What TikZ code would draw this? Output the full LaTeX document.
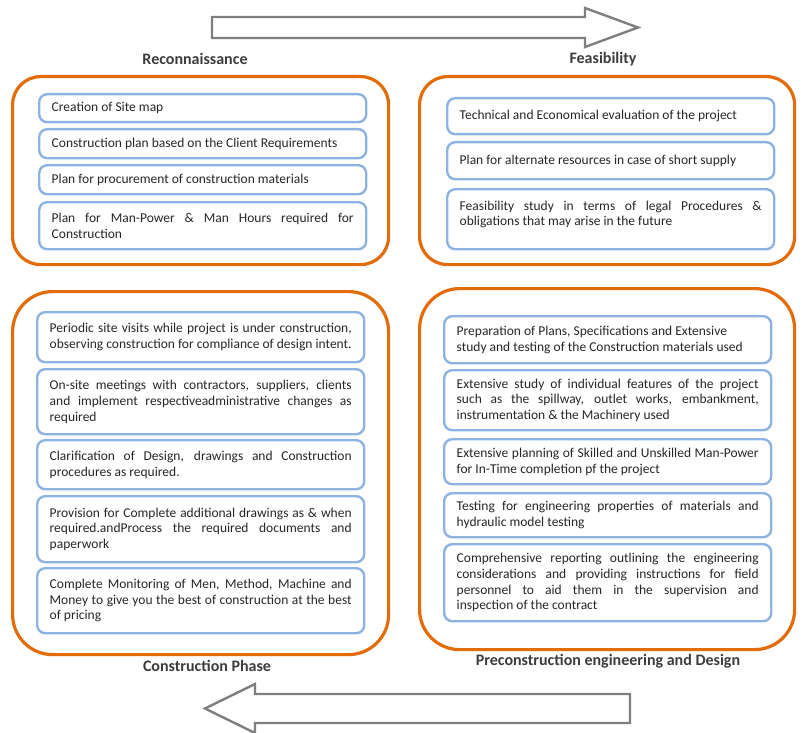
\documentclass[tikz,border=0pt]{standalone}
\usepackage{fontspec}
\setmainfont{Carlito}
\usepackage{tikz}
\usepackage{color}
\usetikzlibrary{positioning, calc}
\definecolor{phaseorange}{HTML}{E36C09}
\definecolor{itemblue}{HTML}{8DB3E2}
\definecolor{arrowgray}{HTML}{7F7F7F}
\definecolor{textgray}{HTML}{262626}
\hyphenpenalty=10000
\exhyphenpenalty=10000

\begin{document}
\begin{tikzpicture}[x=1pt,y=-1pt,
    phase/.style={draw=phaseorange, line width=3.2pt, anchor=north west, inner sep=0pt},
    item/.style={draw=itemblue, line width=2.4pt, rounded corners=8pt, anchor=north west,
        minimum width=327pt, text width=302pt, inner xsep=11pt, align=justify,
        text=textgray, font=\fontsize{13.5}{15.7}\selectfont},
    title/.style={text=textgray!90, font=\fontsize{16}{18}\selectfont\bfseries},
    bigarrow/.style={draw=arrowgray, line width=2.4pt, fill=white}]
                \useasboundingbox (0,0) rectangle (803,733);
                % arrows
                \draw[bigarrow] (212,17) -- (585,17) -- (585,8) -- (638,27.5) -- (585,47) -- (585,38) -- (212,38) -- cycle;
                \draw[bigarrow] (630,694) -- (255,694) -- (255,684) -- (205,708.5) -- (255,733) -- (255,723) -- (630,723) -- cycle;
                % phases
                \node[phase, rounded corners=28pt, minimum width=376pt, minimum height=188pt] (recon) at (11,75) {};
                \node[phase, rounded corners=28pt, minimum width=375pt, minimum height=188pt] (feas) at (418,75) {};
                \node[phase, rounded corners=40pt, minimum width=376pt, minimum height=363pt] (constr) at (11,290) {};
                \node[phase, rounded corners=40pt, minimum width=375pt, minimum height=361pt] (precon) at (418,287) {};
                \node[title] (recont) at (195,59) {Reconnaissance};
                \node[title] (feast) at (603,59) {Feasibility};
                \node[title] (constrt) at (207,666) {Construction Phase};
                \node[title] (precont) at (608,661) {Preconstruction engineering and Design};
                % reconnaissance
                \node[item, minimum height=28pt] (r1) at (38,93) {Creation of Site map};
                \node[item, minimum height=29pt] (r2) at (38,128) {Construction plan based on the Client Requirements};
                \node[item, minimum height=29pt] (r3) at (38,164) {Plan for procurement of construction materials};
                \node[item, minimum height=47pt] (r4) at (38,201) {Plan for Man-Power \& Man Hours required for Construction};
                % feasibility
                \node[item, minimum height=36pt] (f1) at (446,97) {Technical and Economical evaluation of the project};
                \node[item, minimum height=37pt] (f2) at (446,141) {Plan for alternate resources in case of short supply};
                \node[item, minimum height=60pt] (f3) at (446,188) {Feasibility study in terms of legal Procedures \& obligations that may arise in the future\\[-4pt]};
                % construction phase
                \node[item, minimum height=50pt] (c1) at (36,311) {Periodic site visits while project is under construction, observing construction for compliance of design intent.};
                \node[item, minimum height=65pt] (c2) at (36,368) {On-site meetings with contractors, suppliers, clients and implement respectiveadministrative changes as required};
                \node[item, minimum height=49pt] (c3) at (36,439) {Clarification of Design, drawings and Construction procedures as required.};
                \node[item, minimum height=66pt] (c4) at (36,495) {Provision for Complete additional drawings as \& when\linebreak required.andProcess the required documents and paperwork};
                \node[item, minimum height=65pt] (c5) at (36,567) {Complete Monitoring of Men, Method, Machine and Money to give you the best of construction at the best of pricing};
                % preconstruction
                \node[item, minimum height=47pt] (p1) at (443,315) {Preparation of Plans, Specifications and Extensive\\ study and testing of the Construction materials used};
                \node[item, minimum height=60pt] (p2) at (443,369) {Extensive study of individual features of the project such as the spillway, outlet works, embankment, instrumentation \& the Machinery used};
                \node[item, minimum height=45pt] (p3) at (443,438) {Extensive planning of Skilled and Unskilled Man-Power for In-Time completion pf the project};
                \node[item, minimum height=44pt] (p4) at (443,492) {Testing for engineering properties of materials and hydraulic model testing};
                \node[item, minimum height=77pt] (p5) at (443,543) {Comprehensive reporting outlining the engineering considerations and providing instructions for field personnel to aid them in the supervision and\linebreak inspection of the contract};
            \end{tikzpicture}
\end{document}
